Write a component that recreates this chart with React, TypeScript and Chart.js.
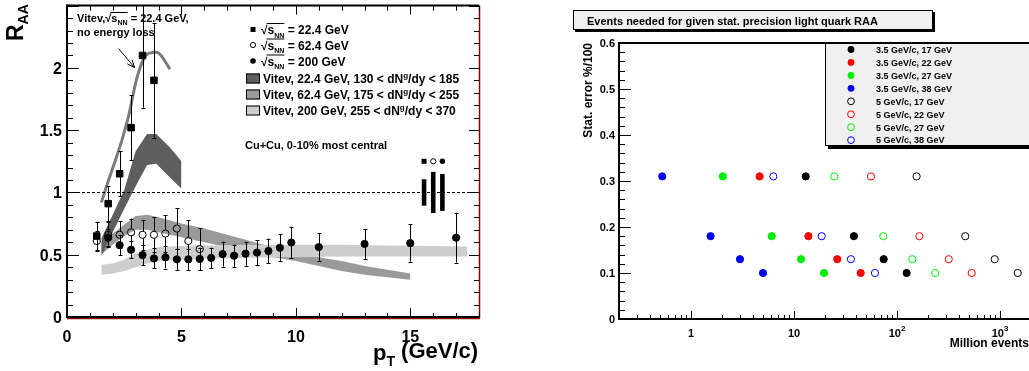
import React, { useEffect, useRef } from "react";
import { Chart, registerables } from "chart.js";
Chart.register(...registerables);

const FONT = '"Liberation Sans", Arial, Helvetica, sans-serif';

// ================= Left panel: R_AA vs pT =================
const xTicksL = [0, 5, 10, 15];
const xTickLabelsL = ["0", "5", "10", "15"];
const yTicksL = [0, 0.5, 1, 1.5, 2];
const yTickLabelsL = ["0", "0.5", "1", "1.5", "2"];

// 22.4 GeV (filled squares)
const pt22 = [1.3, 1.8, 2.3, 2.8, 3.3, 3.8];
const raa22 = [0.65, 0.91, 1.15, 1.52, 2.1, 1.9];
const err22 = [0.11, 0.14, 0.18, 0.26, 0.42, 0.46];

// 62.4 GeV (open circles)
const pt62 = [1.3, 1.8, 2.3, 2.8, 3.3, 3.8, 4.3, 4.8, 5.3, 5.8];
const raa62 = [0.61, 0.66, 0.66, 0.68, 0.66, 0.66, 0.67, 0.71, 0.61, 0.545];
const err62 = [0.08, 0.1, 0.11, 0.11, 0.12, 0.14, 0.145, 0.165, 0.165, 0.17];

// 200 GeV (filled circles)
const pt200 = [1.8, 2.3, 2.8, 3.3, 3.8, 4.3, 4.8, 5.3, 5.8, 6.3, 6.8, 7.3, 7.8, 8.3, 8.8, 9.3, 9.8, 11, 13, 15, 17];
const raa200 = [0.637, 0.577, 0.54, 0.497, 0.47, 0.479, 0.463, 0.463, 0.466, 0.474, 0.505, 0.492, 0.508, 0.517, 0.53, 0.556, 0.598, 0.561, 0.587, 0.593, 0.637];
const err200 = [0.07, 0.08, 0.07, 0.08, 0.08, 0.09, 0.085, 0.085, 0.09, 0.083, 0.1, 0.09, 0.097, 0.1, 0.1, 0.11, 0.128, 0.11, 0.12, 0.15, 0.2];

// Vitev bands
const bandPt22 = [1.5, 2.0, 2.5, 3.0, 3.5, 3.9, 4.5, 5.0];
const bandHi22 = [0.63, 0.82, 1.02, 1.33, 1.47, 1.47, 1.36, 1.25];
const bandLo22 = [0.49, 0.68, 0.87, 1.05, 1.22, 1.23, 1.12, 1.03];

const bandPt62 = [1.5, 2.0, 2.5, 3.0, 3.5, 4.0, 5.0, 6.0, 7.0, 8.0, 9.0, 10, 11, 12, 13, 14, 15];
const bandHi62 = [0.6, 0.67, 0.74, 0.81, 0.82, 0.8, 0.75, 0.71, 0.66, 0.61, 0.56, 0.52, 0.48, 0.45, 0.41, 0.38, 0.35];
const bandLo62 = [0.5, 0.58, 0.65, 0.7, 0.7, 0.68, 0.64, 0.6, 0.56, 0.52, 0.48, 0.45, 0.41, 0.37, 0.34, 0.32, 0.3];

const bandPt200 = [1.5, 2.0, 2.5, 3.0, 3.5, 4.0, 5.0, 6.0, 8.0, 10, 12, 14, 16, 17.5];
const bandHi200 = [0.42, 0.43, 0.46, 0.51, 0.54, 0.56, 0.57, 0.575, 0.58, 0.58, 0.58, 0.575, 0.57, 0.565];
const bandLo200 = [0.34, 0.35, 0.37, 0.4, 0.43, 0.45, 0.46, 0.47, 0.475, 0.48, 0.485, 0.485, 0.485, 0.485];

// Vitev 22.4 GeV, no energy loss
const curvePt = [1.5, 1.8, 2.1, 2.4, 2.7, 3.0, 3.25, 3.5, 4.0, 4.5];
const curveR = [0.92, 1.09, 1.25, 1.42, 1.62, 1.88, 2.03, 2.11, 2.12, 1.99];

// normalisation systematics (square, open, filled)
const systPt = [15.6, 16.0, 16.4];
const systErr = [0.106, 0.165, 0.148];
const systMarkY = 1.25;

const legendSqrtL = ["= 22.4 GeV", "= 62.4 GeV", "= 200 GeV"];
const legendBandPre = ["Vitev, 22.4 GeV, 130 < dN", "Vitev, 62.4 GeV, 175 < dN", "Vitev, 200 GeV, 255 < dN"];
const legendBandPost = ["/dy < 185", "/dy < 255", "/dy < 370"];
const bandColors = ["#5e5e5e", "#9a9a9a", "#cdcdcd"];
const curveColor = "#7c7c7c";

// ================= Right panel: events needed =================
const statErr = [0.31, 0.18, 0.13, 0.1];
const ev35_17 = [13.0, 38.2, 74.3, 124];
const ev35_22 = [4.64, 13.8, 26.3, 44.4];
const ev35_27 = [2.04, 6.07, 11.7, 19.6];
const ev35_38 = [0.526, 1.55, 2.99, 5.0];
const ev5_17 = [155, 460, 888, 1486];
const ev5_22 = [55.9, 165, 318, 531];
const ev5_27 = [24.6, 73.6, 141, 235];
const ev5_38 = [6.3, 18.6, 35.7, 61.1];
const rightSeries = [ev35_17, ev35_22, ev35_27, ev35_38, ev5_17, ev5_22, ev5_27, ev5_38];
const rightLabels = [
  "3.5 GeV/c, 17 GeV", "3.5 GeV/c, 22 GeV", "3.5 GeV/c, 27 GeV", "3.5 GeV/c, 38 GeV",
  "5 GeV/c, 17 GeV", "5 GeV/c, 22 GeV", "5 GeV/c, 27 GeV", "5 GeV/c, 38 GeV",
];
const rightColors = ["#000000", "#ff0000", "#00ee00", "#0000ff", "#000000", "#ff0000", "#00ee00", "#0000ff"];
const rightFilled = [true, true, true, true, false, false, false, false];
const yTicksR = [0, 0.1, 0.2, 0.3, 0.4, 0.5, 0.6];
const yTickLabelsR = ["0", "0.1", "0.2", "0.3", "0.4", "0.5", "0.6"];
const xTicksR = [1, 10, 100, 1000];
const xTickBaseR = ["1", "10", "10", "10"];
const xTickExpR = ["", "", "2", "3"];
const titleR = "Events needed for given stat. precision light quark RAA";

// ---------- helpers ----------
function line(ctx: CanvasRenderingContext2D, x1: number, y1: number, x2: number, y2: number) {
  ctx.beginPath();
  ctx.moveTo(x1, y1);
  ctx.lineTo(x2, y2);
  ctx.stroke();
}
type Part = { t: string; s: number; dy?: number; ov?: boolean };
function rich(ctx: CanvasRenderingContext2D, x: number, y: number, parts: Part[], align = "left", ovOff = 0) {
  const ws = parts.map((p) => {
    ctx.font = `bold ${p.s}px ${FONT}`;
    return ctx.measureText(p.t).width;
  });
  const tot = ws.reduce((a, b) => a + b, 0);
  let cx = align === "left" ? x : align === "right" ? x - tot : x - tot / 2;
  ctx.textAlign = "left";
  ctx.textBaseline = "alphabetic";
  let o0: number | null = null;
  let o1 = 0;
  parts.forEach((p, i) => {
    ctx.font = `bold ${p.s}px ${FONT}`;
    ctx.fillText(p.t, cx, y + (p.dy || 0));
    if (p.ov) {
      if (o0 === null) o0 = cx;
      o1 = cx + ws[i];
    }
    cx += ws[i];
  });
  if (o0 !== null) {
    ctx.lineWidth = 1;
    line(ctx, o0 - 1, y - ovOff + 0.5, o1, y - ovOff + 0.5);
  }
}
function sqrtParts(S: number): Part[] {
  return [
    { t: "\u221A", s: S },
    { t: "s", s: S, ov: true },
    { t: "NN", s: Math.round(S * 0.62), dy: S * 0.3, ov: true },
  ];
}
function errBars(ctx: CanvasRenderingContext2D, xs: any, ys: any, px: number[], py: number[], pe: number[], r: number) {
  for (let i = 0; i < px.length; i++) {
    const x = Math.round(xs.getPixelForValue(px[i])) + 0.5;
    const yc = ys.getPixelForValue(py[i]);
    const yt = ys.getPixelForValue(py[i] + pe[i]);
    const yb = ys.getPixelForValue(py[i] - pe[i]);
    if (yc - yt > r) line(ctx, x, yt, x, yc - r);
    if (yb - yc > r) line(ctx, x, yc + r, x, yb);
    line(ctx, x - 2, Math.round(yt) + 0.5, x + 2, Math.round(yt) + 0.5);
    line(ctx, x - 2, Math.round(yb) + 0.5, x + 2, Math.round(yb) + 0.5);
  }
}

const FIRST_MARKER = 7;

const leftPlugin = {
  id: "leftDecor",
  beforeDatasetDraw(chart: any, args: any) {
    if (args.index !== FIRST_MARKER) return;
    const ctx = chart.ctx as CanvasRenderingContext2D;
    const xs = chart.scales.x, ys = chart.scales.y;
    const { left, right, top, bottom } = chart.chartArea;
    ctx.save();
    ctx.beginPath();
    ctx.rect(left, top, right - left, bottom - top);
    ctx.clip();
    ctx.strokeStyle = "#000";
    ctx.lineWidth = 1;
    // R = 1 reference
    ctx.setLineDash([3, 2]);
    const y1 = Math.round(ys.getPixelForValue(1)) + 0.5;
    line(ctx, left, y1, right, y1);
    ctx.setLineDash([]);
    // systematic boxes
    ctx.fillStyle = "#000";
    for (let i = 0; i < systPt.length; i++) {
      const xa = xs.getPixelForValue(systPt[i] - 0.1);
      const xb = xs.getPixelForValue(systPt[i] + 0.1);
      const ya = ys.getPixelForValue(1 + systErr[i]);
      const yb = ys.getPixelForValue(1 - systErr[i]);
      ctx.fillRect(xa, ya, xb - xa, yb - ya);
    }
    // error bars
    errBars(ctx, xs, ys, pt62, raa62, err62, 3.5);
    errBars(ctx, xs, ys, pt200, raa200, err200, 3);
    errBars(ctx, xs, ys, pt22, raa22, err22, 3);
    ctx.restore();
  },
  afterDraw(chart: any) {
    const ctx = chart.ctx as CanvasRenderingContext2D;
    const xs = chart.scales.x, ys = chart.scales.y;
    const { left, right, top, bottom } = chart.chartArea;
    ctx.save();
    ctx.strokeStyle = "#000";
    ctx.fillStyle = "#000";
    // frame
    ctx.lineWidth = 1.5;
    ctx.strokeStyle = "#8b0000";
    line(ctx, right + 0.5, top, right + 0.5, bottom + 1.5);
    line(ctx, left, bottom + 1.5, right + 1, bottom + 1.5);
    ctx.strokeStyle = "#000";
    ctx.lineWidth = 2;
    line(ctx, left, top, right, top);
    line(ctx, left, top - 1, left, bottom + 1);
    line(ctx, left - 1, bottom, right, bottom);
    ctx.lineWidth = 1;
    // y ticks
    for (let k = 0; k <= 25; k++) {
      const v = k / 10;
      const y = Math.round(ys.getPixelForValue(v)) + 0.5;
      const major = k % 5 === 0;
      line(ctx, left, y, left + (major ? 12 : 6), y);
      line(ctx, right, y, right - (major ? 10 : 5), y);
    }
    // x ticks
    for (let k = 0; k <= 18; k++) {
      const x = Math.round(xs.getPixelForValue(k)) + 0.5;
      const major = k % 5 === 0;
      line(ctx, x, bottom, x, bottom - (major ? 9 : 4));
      line(ctx, x, top, x, top + (major ? 9 : 5));
    }
    // tick labels
    ctx.font = `bold 16px ${FONT}`;
    ctx.textAlign = "right";
    ctx.textBaseline = "alphabetic";
    yTicksL.forEach((v, i) => ctx.fillText(yTickLabelsL[i], left - 5, ys.getPixelForValue(v) + 6));
    ctx.textAlign = "center";
    xTicksL.forEach((v, i) => ctx.fillText(xTickLabelsL[i], xs.getPixelForValue(v), 342));
    // axis titles
    ctx.save();
    ctx.translate(23, 41);
    ctx.rotate(-Math.PI / 2);
    rich(ctx, 0, 0, [{ t: "R", s: 23 }, { t: "AA", s: 14, dy: 5 }]);
    ctx.restore();
    rich(ctx, 373, 358, [{ t: "p", s: 22, dy: 2 }, { t: "T", s: 14, dy: 8 }, { t: " (GeV/c)", s: 22 }]);
    // annotation (no energy loss)
    rich(ctx, 77, 22, [{ t: "Vitev,", s: 11 }, ...sqrtParts(11), { t: " = 22.4 GeV,", s: 11 }], "left", 10);
    ctx.font = `bold 11px ${FONT}`;
    ctx.textAlign = "left";
    ctx.fillText("no energy loss", 77, 36);
    // arrow
    ctx.lineWidth = 1;
    const ax0 = 118.5, ay0 = 48.5, ax1 = 134.5, ay1 = 67.5;
    line(ctx, ax0, ay0, ax1, ay1);
    const ang = Math.atan2(ay1 - ay0, ax1 - ax0);
    line(ctx, ax1, ay1, ax1 - 8 * Math.cos(ang - 0.4), ay1 - 8 * Math.sin(ang - 0.4));
    line(ctx, ax1, ay1, ax1 - 8 * Math.cos(ang + 0.4), ay1 - 8 * Math.sin(ang + 0.4));
    // legend: data markers
    const legY = [29.5, 45, 61];
    ctx.fillStyle = "#000";
    ctx.fillRect(250.5, legY[0] - 2.5, 5, 5);
    ctx.beginPath();
    ctx.arc(253, legY[1], 2.6, 0, Math.PI * 2);
    ctx.stroke();
    ctx.beginPath();
    ctx.arc(253, legY[2], 2.8, 0, Math.PI * 2);
    ctx.fill();
    legendSqrtL.forEach((t, i) => {
      rich(ctx, 261, legY[i] + 4.5, [...sqrtParts(12), { t: " " + t, s: 12 }], "left", 11);
    });
    // legend: bands
    const boxY = [78.5, 94.5, 110.5];
    boxY.forEach((y, i) => {
      ctx.fillStyle = bandColors[i];
      ctx.fillRect(246, y - 5, 14, 10);
      ctx.strokeStyle = "#000";
      ctx.lineWidth = 1;
      ctx.strokeRect(246.5, y - 4.5, 13, 9);
      ctx.fillStyle = "#000";
      rich(ctx, 263, y + 4.5, [{ t: legendBandPre[i], s: 12 }, { t: "g", s: 8, dy: -5 }, { t: legendBandPost[i], s: 12 }]);
    });
    ctx.font = `bold 11px ${FONT}`;
    ctx.textAlign = "left";
    ctx.fillText("Cu+Cu, 0-10% most central", 245, 149);
    // syst legend markers
    const sy = ys.getPixelForValue(systMarkY);
    const sx = systPt.map((v) => xs.getPixelForValue(v));
    ctx.fillRect(sx[0] - 2.5, sy - 2.5, 5, 5);
    ctx.beginPath();
    ctx.arc(sx[1], sy, 2.6, 0, Math.PI * 2);
    ctx.stroke();
    ctx.beginPath();
    ctx.arc(sx[2], sy, 2.7, 0, Math.PI * 2);
    ctx.fill();
    ctx.restore();
  },
};

const rightPlugin = {
  id: "rightDecor",
  afterDraw(chart: any) {
    const ctx = chart.ctx as CanvasRenderingContext2D;
    const xs = chart.scales.x, ys = chart.scales.y;
    const { left, right, top, bottom } = chart.chartArea;
    ctx.save();
    ctx.strokeStyle = "#000";
    ctx.fillStyle = "#000";
    ctx.lineWidth = 2;
    line(ctx, left, top, right, top);
    line(ctx, left, top - 1, left, bottom + 1);
    line(ctx, left - 1, bottom, right, bottom);
    ctx.lineWidth = 1;
    for (let k = 0; k <= 30; k++) {
      const v = k / 50;
      const y = Math.round(ys.getPixelForValue(v)) + 0.5;
      const major = k % 5 === 0;
      line(ctx, left, y, left + (major ? 12 : 6), y);
    }
    for (let d = -1; d <= 3; d++) {
      for (let m = 1; m <= 9; m++) {
        const v = m * Math.pow(10, d);
        if (v < 0.2 || v > 2000) continue;
        const x = Math.round(xs.getPixelForValue(v)) + 0.5;
        line(ctx, x, bottom, x, bottom - (m === 1 ? 8 : 4));
      }
    }
    ctx.font = `bold 11px ${FONT}`;
    ctx.textAlign = "right";
    yTicksR.forEach((v, i) => ctx.fillText(yTickLabelsR[i], left - 4, ys.getPixelForValue(v) + 4));
    xTicksR.forEach((v, i) => {
      const parts: Part[] = [{ t: xTickBaseR[i], s: 11 }];
      if (xTickExpR[i]) parts.push({ t: xTickExpR[i], s: 8, dy: -6 });
      rich(ctx, xs.getPixelForValue(v), 337, parts, "center");
    });
    ctx.font = `bold 12px ${FONT}`;
    ctx.textAlign = "right";
    ctx.fillText("Million events", 509, 347);
    ctx.save();
    ctx.translate(72, 43);
    ctx.rotate(-Math.PI / 2);
    ctx.textAlign = "right";
    ctx.fillText("Stat. error %/100", 0, 0);
    ctx.restore();
    // title box
    ctx.fillStyle = "#000";
    ctx.fillRect(55, 12, 360, 20);
    ctx.fillStyle = "#f0f0f0";
    ctx.fillRect(53, 10, 360, 20);
    ctx.lineWidth = 1;
    ctx.strokeRect(53.5, 10.5, 359, 19);
    ctx.fillStyle = "#000";
    ctx.font = `bold 11px ${FONT}`;
    ctx.textAlign = "left";
    ctx.fillText(titleR, 67, 25);
    // legend box
    ctx.fillStyle = "#000";
    ctx.fillRect(308, 146, 300, 3);
    ctx.fillStyle = "#f0f0f0";
    ctx.fillRect(305, 43, 300, 103);
    ctx.strokeRect(305.5, 43.5, 300, 102);
    ctx.font = `bold 9px ${FONT}`;
    rightLabels.forEach((t, i) => {
      const y = 49.5 + 12.95 * i;
      ctx.beginPath();
      ctx.arc(331, y, 3.4, 0, Math.PI * 2);
      if (rightFilled[i]) {
        ctx.fillStyle = rightColors[i];
        ctx.fill();
      } else {
        ctx.strokeStyle = rightColors[i];
        ctx.stroke();
      }
      ctx.fillStyle = "#000";
      ctx.strokeStyle = "#000";
      ctx.fillText(t, 356, y + 3.3);
    });
    ctx.restore();
  },
};

export default function App() {
  const lRef = useRef<HTMLCanvasElement>(null);
  const rRef = useRef<HTMLCanvasElement>(null);
  useEffect(() => {
    const xy = (xa: number[], ya: number[]) => xa.map((x, i) => ({ x, y: ya[i] }));
    const band = (xa: number[], hi: number[], lo: number[], color: string) => [
      { data: xy(xa, hi), backgroundColor: color, borderColor: "rgba(0,0,0,0)", borderWidth: 0, pointRadius: 0, fill: "+1", showLine: true },
      { data: xy(xa, lo), backgroundColor: color, borderColor: "rgba(0,0,0,0)", borderWidth: 0, pointRadius: 0, fill: false, showLine: true },
    ];
    const lds: any[] = [
      ...band(bandPt62, bandHi62, bandLo62, bandColors[1]),
      ...band(bandPt200, bandHi200, bandLo200, bandColors[2]),
      ...band(bandPt22, bandHi22, bandLo22, bandColors[0]),
      { data: xy(curvePt, curveR), borderColor: curveColor, borderWidth: 3, pointRadius: 0, fill: false, showLine: true, tension: 0.25 },
      { data: xy(pt62, raa62), showLine: false, pointStyle: "circle", pointRadius: 3.6, pointBackgroundColor: "rgba(0,0,0,0)", pointBorderColor: "#000", pointBorderWidth: 1 },
      { data: xy(pt200, raa200), showLine: false, pointStyle: "circle", pointRadius: 3.6, pointBackgroundColor: "#000", pointBorderColor: "#000", pointBorderWidth: 1 },
      { data: xy(pt22, raa22), showLine: false, pointStyle: "rect", pointRadius: 4.6, pointBackgroundColor: "#000", pointBorderColor: "#000", pointBorderWidth: 1 },
    ];
    lds.forEach((d, i) => (d.order = lds.length - i));
    const left = new Chart(lRef.current!, {
      type: "line",
      data: { datasets: lds },
      options: {
        responsive: false,
        animation: false,
        events: [],
        layout: { padding: { left: 67, right: 520 - 479, top: 4, bottom: 371 - 317 } },
        scales: {
          x: { type: "linear", min: 0, max: 18, display: false },
          y: { type: "linear", min: 0, max: 2.5, display: false },
        },
        plugins: { legend: { display: false }, tooltip: { enabled: false } },
      },
      plugins: [leftPlugin],
    });

    const rds: any[] = rightSeries.map((ser, i) => ({
      data: xy(ser, statErr),
      showLine: false,
      pointStyle: "circle",
      pointRadius: 3.6,
      pointBackgroundColor: rightFilled[i] ? rightColors[i] : "rgba(0,0,0,0)",
      pointBorderColor: rightColors[i],
      pointBorderWidth: 1,
    }));
    const right = new Chart(rRef.current!, {
      type: "scatter",
      data: { datasets: rds },
      options: {
        responsive: false,
        animation: false,
        events: [],
        layout: { padding: { left: 99, right: 600 - 511, top: 43, bottom: 371 - 319 } },
        scales: {
          x: { type: "logarithmic", min: 0.2, max: 2000, display: false },
          y: { type: "linear", min: 0, max: 0.6, display: false },
        },
        plugins: { legend: { display: false }, tooltip: { enabled: false } },
      },
      plugins: [rightPlugin],
    });
    return () => {
      left.destroy();
      right.destroy();
    };
  }, []);
  return (
    <div style={{ position: "fixed", left: 0, top: 0, width: 1029, height: 371, overflow: "hidden", background: "#fff" }}>
      <canvas ref={lRef} width={520} height={371} style={{ position: "absolute", left: 0, top: 0 }} />
      <canvas ref={rRef} width={600} height={371} style={{ position: "absolute", left: 520, top: 0 }} />
    </div>
  );
}
